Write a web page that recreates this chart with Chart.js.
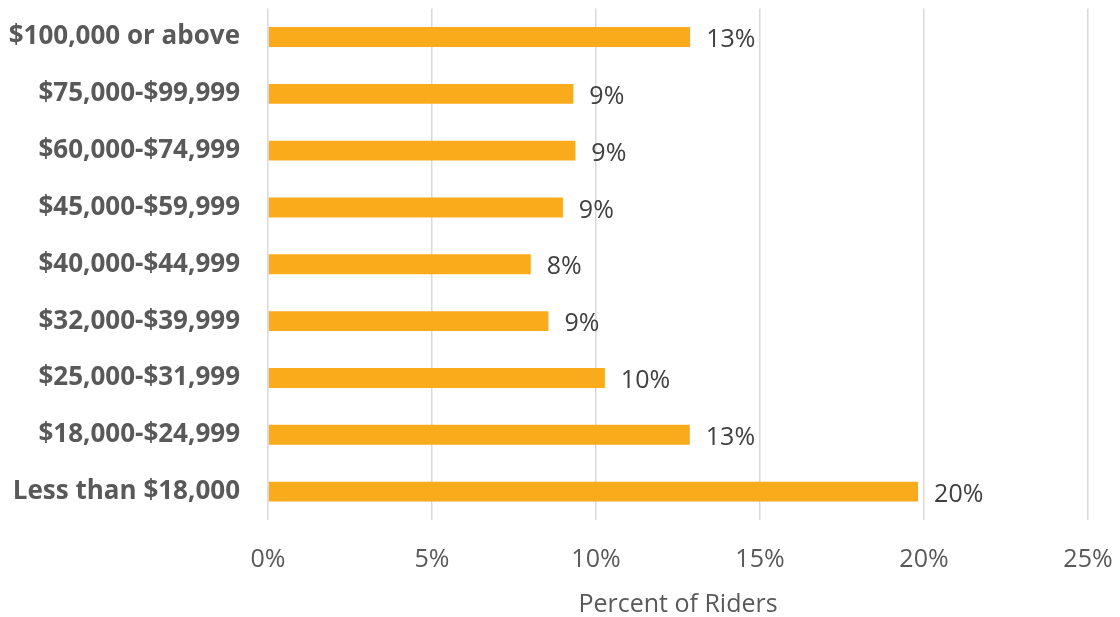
<!DOCTYPE html>
<html>
<head>
<meta charset="utf-8">
<script src="https://cdn.jsdelivr.net/npm/chart.js@4.4.1/dist/chart.umd.min.js"></script>
<style>
    html, body { margin: 0; padding: 0; background: #fff; }
    #wrap { width: 1120px; height: 617px; }
</style>
</head>
<body>
<div id="wrap"><canvas id="canvasIngresos"></canvas></div>
<script>
const categorias = [
    '$100,000 or above',
    '$75,000-$99,999',
    '$60,000-$74,999',
    '$45,000-$59,999',
    '$40,000-$44,999',
    '$32,000-$39,999',
    '$25,000-$31,999',
    '$18,000-$24,999',
    'Less than $18,000'
];
const porcentajeRiders = [12.87, 9.31, 9.37, 8.99, 8.01, 8.55, 10.27, 12.86, 19.82];
const ticksX = [0, 5, 10, 15, 20, 25];
const tituloX = 'Percent of Riders';

const FUENTE = "'Open Sans', 'Noto Sans', sans-serif";

// etiquetas de valor a la derecha de cada barra
const etiquetasValor = {
    id: 'etiquetasValor',
    afterDatasetsDraw(chart) {
        const ctx = chart.ctx;
        const meta = chart.getDatasetMeta(0);
        ctx.save();
        ctx.font = `25px ${FUENTE}`;
        ctx.fillStyle = '#404040';
        ctx.textAlign = 'left';
        ctx.textBaseline = 'middle';
        meta.data.forEach((bar, i) => {
            const valor = chart.data.datasets[0].data[i];
            ctx.fillText(Math.round(valor) + '%', bar.x + 16, bar.y + 3);
        });
        ctx.restore();
    }
};

// sin relleno automatico por las etiquetas de los extremos
function sinRelleno(axis) {
    axis.paddingTop = 0;
    axis.paddingBottom = 0;
    axis.paddingLeft = 0;
    axis.paddingRight = 0;
}

new Chart(document.getElementById('canvasIngresos'), {
    type: 'bar',
    data: {
        labels: categorias,
        datasets: [{
            data: porcentajeRiders,
            backgroundColor: '#FAAB1C',
            barPercentage: 0.5,
            categoryPercentage: 0.7
        }]
    },
    options: {
        indexAxis: 'y',
        responsive: true,
        maintainAspectRatio: false,
        animation: false,
        layout: { padding: { left: 0, right: 32, top: 8.6, bottom: 0 } },
        plugins: {
            legend: { display: false },
            tooltip: { enabled: false }
        },
        scales: {
            x: {
                min: 0,
                max: 25,
                afterBuildTicks: axis => { axis.ticks = ticksX.map(v => ({ value: v })); },
                afterFit: axis => { axis.height = 97; sinRelleno(axis); },
                border: { display: false },
                grid: { color: '#d9d9d9', lineWidth: 1.5, drawTicks: false },
                ticks: {
                    padding: 25,
                    color: '#595959',
                    font: { family: FUENTE, size: 25 },
                    callback: v => v + '%'
                },
                title: {
                    display: true,
                    text: tituloX,
                    color: '#595959',
                    font: { family: FUENTE, size: 25, lineHeight: 1 },
                    padding: { top: 4, bottom: 0 }
                }
            },
            y: {
                afterFit: axis => { axis.width = 268; sinRelleno(axis); },
                border: { display: false },
                grid: { display: false, drawTicks: false },
                ticks: {
                    padding: 28,
                    color: '#595959',
                    font: { family: FUENTE, size: 26, weight: 'bold' }
                }
            }
        }
    },
    plugins: [etiquetasValor]
});
</script>
</body>
</html>
